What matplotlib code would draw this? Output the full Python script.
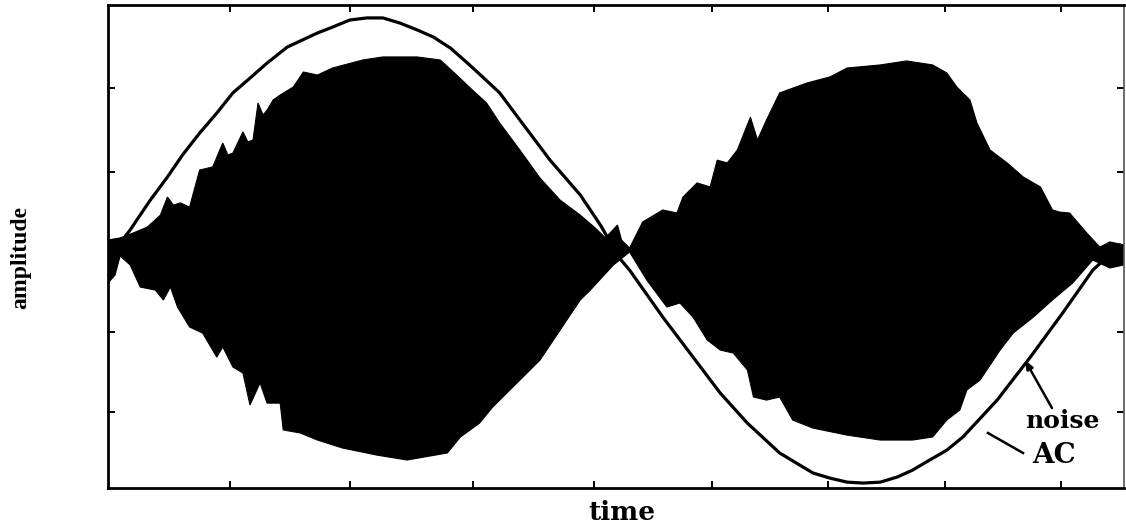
import numpy as np
import matplotlib
matplotlib.use("Agg")
import matplotlib.pyplot as plt

# time axis runs over one AC period (0 .. 1); amplitude normalised to the AC peak
ac_t = [0.000, 0.017, 0.037, 0.054, 0.069, 0.086, 0.103, 0.119, 0.136, 0.153,
        0.173, 0.203, 0.218, 0.235, 0.252, 0.268, 0.285, 0.302, 0.318, 0.335,
        0.352, 0.367, 0.384, 0.404, 0.434, 0.464, 0.484, 0.503, 0.513, 0.546,
        0.573, 0.603, 0.630, 0.662, 0.695, 0.712, 0.729, 0.745, 0.762, 0.779,
        0.794, 0.811, 0.828, 0.844, 0.878, 0.911, 0.943, 0.973, 1.000]
ac_amp = [0.000, 0.094, 0.221, 0.319, 0.413, 0.506, 0.591, 0.677, 0.740, 0.804,
          0.872, 0.932, 0.957, 0.987, 0.996, 0.996, 0.974, 0.945, 0.915, 0.868,
          0.804, 0.745, 0.677, 0.562, 0.391, 0.243, 0.115, -0.026, -0.077, -0.277,
          -0.430, -0.600, -0.728, -0.855, -0.940, -0.962, -0.979, -0.983, -0.979, -0.957,
          -0.928, -0.885, -0.843, -0.787, -0.630, -0.447, -0.260, -0.077, 0.030]

# upper edge of the noise band
noise_top_t = [-0.005, 0.007, 0.020, 0.034, 0.047, 0.054, 0.060, 0.067, 0.076, 0.086,
               0.099, 0.109, 0.114, 0.119, 0.129, 0.134, 0.139, 0.144, 0.149, 0.153,
               0.159, 0.166, 0.179, 0.189, 0.203, 0.218, 0.248, 0.268, 0.302, 0.325,
               0.338, 0.357, 0.371, 0.384, 0.404, 0.424, 0.444, 0.464, 0.479, 0.489,
               0.501, 0.505, 0.513, 0.526, 0.546, 0.560, 0.566, 0.580, 0.593, 0.600,
               0.610, 0.620, 0.633, 0.640, 0.649, 0.662, 0.689, 0.712, 0.729, 0.762,
               0.788, 0.814, 0.828, 0.838, 0.851, 0.858, 0.871, 0.888, 0.904, 0.921,
               0.933, 0.940, 0.950, 0.967, 0.980, 0.990, 1.004]
noise_top = [0.051, 0.060, 0.081, 0.106, 0.157, 0.234, 0.200, 0.209, 0.191, 0.349,
             0.362, 0.464, 0.413, 0.421, 0.511, 0.468, 0.477, 0.634, 0.583, 0.604,
             0.647, 0.668, 0.702, 0.766, 0.753, 0.783, 0.817, 0.830, 0.830, 0.817,
             0.766, 0.689, 0.634, 0.549, 0.434, 0.315, 0.221, 0.157, 0.102, 0.060,
             0.115, 0.051, 0.017, 0.128, 0.179, 0.166, 0.234, 0.294, 0.277, 0.391,
             0.379, 0.434, 0.574, 0.477, 0.562, 0.677, 0.719, 0.745, 0.783, 0.796,
             0.813, 0.796, 0.762, 0.702, 0.647, 0.549, 0.434, 0.379, 0.319, 0.277,
             0.179, 0.170, 0.166, 0.081, 0.021, 0.043, 0.030]

# lower edge of the noise band
noise_bot_t = [-0.005, 0.002, 0.007, 0.017, 0.027, 0.042, 0.050, 0.057, 0.064, 0.076,
               0.089, 0.103, 0.109, 0.119, 0.129, 0.136, 0.146, 0.153, 0.166, 0.169,
               0.186, 0.203, 0.228, 0.262, 0.292, 0.332, 0.345, 0.364, 0.377, 0.404,
               0.424, 0.444, 0.464, 0.474, 0.497, 0.513, 0.530, 0.550, 0.563, 0.576,
               0.590, 0.603, 0.616, 0.630, 0.636, 0.649, 0.662, 0.675, 0.695, 0.729,
               0.762, 0.794, 0.814, 0.828, 0.841, 0.848, 0.861, 0.881, 0.894, 0.914,
               0.933, 0.953, 0.973, 0.990, 1.004]
noise_bot = [-0.132, -0.098, -0.017, -0.055, -0.149, -0.162, -0.204, -0.149, -0.234, -0.319,
             -0.345, -0.447, -0.404, -0.489, -0.515, -0.651, -0.557, -0.643, -0.643, -0.757,
             -0.770, -0.800, -0.834, -0.864, -0.885, -0.855, -0.787, -0.728, -0.660, -0.545,
             -0.460, -0.332, -0.204, -0.162, -0.055, 0.000, -0.119, -0.234, -0.217, -0.277,
             -0.374, -0.417, -0.430, -0.502, -0.617, -0.630, -0.617, -0.715, -0.749, -0.779,
             -0.800, -0.800, -0.787, -0.715, -0.672, -0.587, -0.545, -0.417, -0.345, -0.277,
             -0.204, -0.132, -0.034, -0.068, -0.055]

x_ticks = [0.116, 0.235, 0.357, 0.478, 0.595, 0.710, 0.826, 0.941]
y_ticks = [-0.681, -0.340, 0.0, 0.340, 0.698]

W, H = 1126, 528
fig = plt.figure(figsize=(W / 100, H / 100), dpi=100)
ax = fig.add_axes([108 / W, 1 - 488 / H, (1124 - 108) / W, (488 - 5) / H])

# noise band as a closed polygon: top edge forward, bottom edge back
poly_t = np.concatenate([noise_top_t, noise_bot_t[::-1]])
poly_a = np.concatenate([noise_top, noise_bot[::-1]])
ax.fill(poly_t, poly_a, color="black", lw=0.8, ec="black", zorder=2)

ax.plot(ac_t, ac_amp, color="black", lw=2.3, zorder=3,
        solid_joinstyle="round", solid_capstyle="round")

ax.set_xlim(-0.005, 1.004)
ax.set_ylim(-1.004, 1.051)
ax.set_xticks(x_ticks)
ax.set_yticks(y_ticks)
ax.tick_params(direction="in", length=5, width=1.4, top=True, right=True,
               labelbottom=False, labelleft=False)
for side in ("left", "bottom", "top"):
    ax.spines[side].set_linewidth(2.0)
ax.spines["right"].set_linewidth(1.2)
ax.spines["right"].set_color("#555555")

# labelled pointers
ax.annotate("", xy=(0.9057, -0.460), xytext=(0.9325, -0.664),
            arrowprops=dict(arrowstyle="-|>,head_length=0.5,head_width=0.2",
                            color="black", lw=1.8, shrinkA=0, shrinkB=0))
ax.plot([0.9037, 0.8689], [-0.855, -0.770], color="black", lw=1.8, zorder=4)

serif = ["DejaVu Serif"]
ax.text(0.9057, -0.749, "noise", family=serif, fontweight="bold", fontsize=18,
        ha="left", va="baseline")
ax.text(0.9126, -0.898, "AC", family=serif, fontweight="bold", fontsize=20,
        ha="left", va="baseline")

fig.text(622 / W, 1 - 520 / H, "time", family=serif, fontweight="bold",
         fontsize=19, ha="center", va="baseline")
fig.text(21 / W, 1 - 257 / H, "amplitude", family=["Liberation Serif"],
         fontweight="bold", fontsize=17, rotation=90, ha="center", va="center")

fig.savefig("out.png", dpi=100)
